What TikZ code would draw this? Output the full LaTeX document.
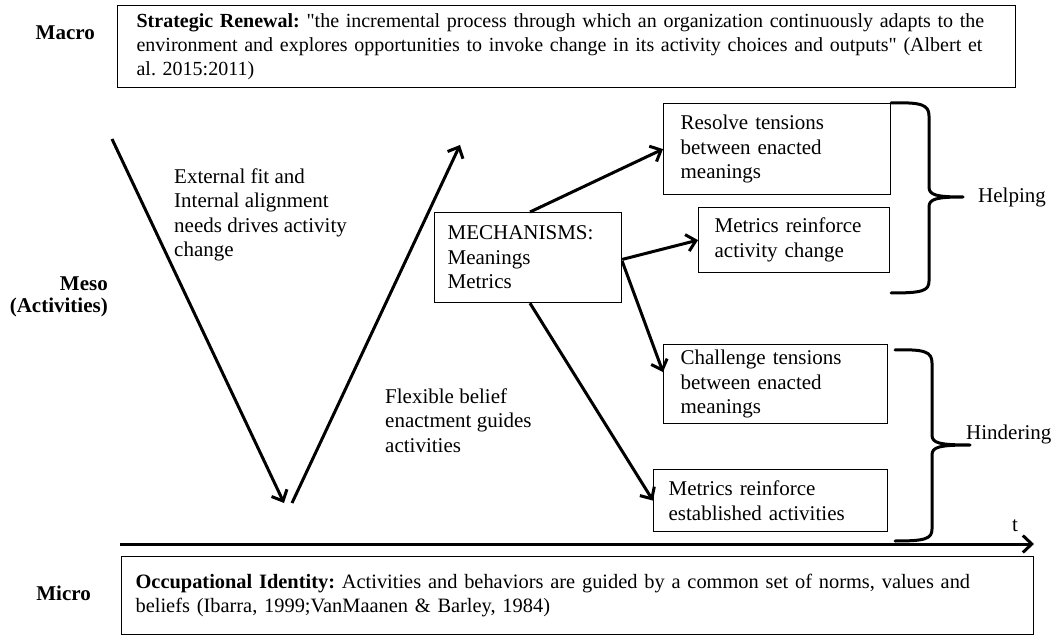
\documentclass[tikz,border=0pt]{standalone}
\usepackage{fontspec}
\setmainfont{Liberation Serif}[Ligatures=TeXOff]
\usetikzlibrary{arrows.meta,calc}

\tikzset{
  txt/.style={font=\fontsize{21}{24.5}\selectfont, inner sep=0pt},
  lbl/.style={txt, font=\fontsize{21}{23}\selectfont\bfseries, align=right},
  box/.style={txt, draw, line width=1.2pt, align=left, anchor=north west, inner ysep=0pt},
  flow/.style={line width=3pt, -{Straight Barb[length=9pt,width=17pt]}},
  brace/.style={line width=3pt, line join=round, line cap=round},
}
\frenchspacing
\hyphenpenalty=10000

\begin{document}
\begin{tikzpicture}[x=1pt,y=-1pt]
\useasboundingbox (0,0) rectangle (1055,636);

% level labels
\node[lbl, anchor=base east] (macro) at (95,40) {Macro};
\node[lbl, anchor=base east] (meso) at (108,313) {Meso\\(Activities)};
\node[lbl, anchor=base east] (micro) at (91,600) {Micro};

% macro and micro definition boxes
\node[box, font=\fontsize{20}{24}\selectfont, inner xsep=19pt, text width=860pt, minimum height=82pt] (renewal) at (117,5)
  {\mbox{\textbf{Strategic Renewal:} "the incremental process through which an organization continuously adapts to the}\\
   \mbox{environment and explores opportunities to invoke change in its activity choices and outputs" (Albert et}\\
   \mbox{al. 2015:2011)}};
\node[box, font=\fontsize{20.4}{24}\selectfont, inner xsep=14pt, text width=884pt, minimum height=78pt] (identity) at (121,556)
  {\mbox{\textbf{Occupational Identity:} Activities and behaviors are guided by a common set of norms, values and}\\
   \mbox{beliefs (Ibarra, 1999;VanMaanen \& Barley, 1984)}};

% mechanism and outcome boxes
\node[box, inner xsep=13pt, text width=161pt, minimum height=90pt] (mech) at (434,212)
  {MECHANISMS:\\Meanings\\Metrics};
\node[box, inner xsep=17pt, text width=193pt, minimum height=91pt] (resolve) at (663,103)
  {Resolve tensions\\between enacted\\meanings};
\node[box, inner xsep=16pt, text width=159pt, minimum height=65pt] (mchange) at (698,207)
  {Metrics reinforce\\activity change};
\node[box, inner xsep=17pt, text width=190pt, minimum height=79pt] (challenge) at (663,344)
  {Challenge tensions\\between enacted\\meanings};
\node[box, inner xsep=15pt, text width=204pt, minimum height=62pt] (mest) at (653,469)
  {Metrics reinforce\\established activities};

% free text (anchored at the baseline of the last line)
\node[txt, align=left, anchor=base west] (drive) at (174,257)
  {External fit and\\Internal alignment\\needs drives activity\\change};
\node[txt, align=left, anchor=base west] (flex) at (385,452)
  {Flexible belief\\enactment guides\\activities};
\node[txt, anchor=base west] (helping) at (978,203) {Helping};
\node[txt, anchor=base west] (hindering) at (966,439) {Hindering};
\node[txt, anchor=base west] (tlabel) at (1012,531) {t};

% V-shaped activity path
\coordinate (vtop) at (112,139);
\coordinate (vlow) at (284,503);
\coordinate (vup) at (292,503);
\coordinate (vend) at (460,145);
\draw[flow] (vtop) -- (vlow);
\draw[flow] (vup) -- (vend);

% time axis
\coordinate (tstart) at (120,544);
\coordinate (tend) at (1034,544);
\draw[flow] (tstart) -- (tend);

% mechanism connectors
\draw[flow] ($(mech.north west)!0.51!(mech.north east)$) -- ($(resolve.north west)!0.5!(resolve.south west)$);
\draw[flow] ($(mech.north east)!0.52!(mech.south east)$) -- (mchange.west);
\draw[flow] ($(mech.north east)!0.54!(mech.south east)$) -- ($(challenge.north west)!0.35!(challenge.south west)$);
\draw[flow] ($(mech.south west)!0.51!(mech.south east)$) -- (mest.west);

% braces
\draw[brace] (891,103) .. controls (922,102) and (929,105) .. (929,116) -- (929,187)
  .. controls (929,195) and (936,197) .. (963,197)
  .. controls (936,197) and (929,199) .. (929,207) -- (929,281)
  .. controls (929,291) and (922,293) .. (891,293);
\draw[brace] (895,350) .. controls (925,349) and (932,352) .. (932,363) -- (932,435)
  .. controls (932,443) and (939,445) .. (970,445)
  .. controls (939,445) and (932,447) .. (932,455) -- (932,529)
  .. controls (932,539) and (925,541) .. (895,541);
\end{tikzpicture}
\end{document}
